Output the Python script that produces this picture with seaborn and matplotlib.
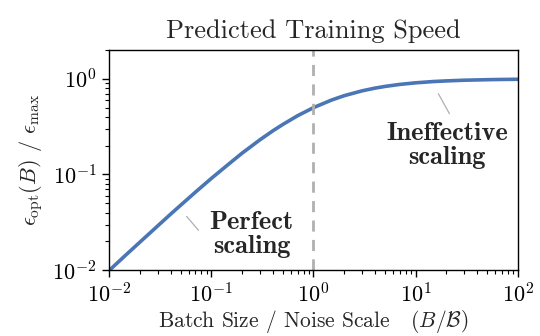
import matplotlib
matplotlib.use("Agg")
import matplotlib.pyplot as plt
import seaborn as sns
import pandas as pd

# values
batch_over_noise = [0.01, 0.015, 0.02, 0.03, 0.04, 0.05, 0.07, 0.1, 0.15, 0.2, 0.3, 0.4, 0.5, 0.7,
                    1.0, 1.5, 2.0, 3.0, 4.0, 5.0, 7.0, 10.0, 15.0, 20.0, 30.0, 50.0, 70.0, 100.0]
eps_ratio = [0.0099, 0.0148, 0.0196, 0.0291, 0.0385, 0.0476, 0.0654, 0.0909, 0.130, 0.167,
             0.231, 0.286, 0.333, 0.412, 0.500, 0.600, 0.667, 0.750, 0.800, 0.833, 0.875,
             0.909, 0.938, 0.952, 0.968, 0.980, 0.986, 0.990]
noise_scale_marker = [1.0]

sns.set_style("ticks")
plt.rcParams.update({
    "font.family": ["cmr10", "DejaVu Serif"],
    "mathtext.fontset": "cm",
    "axes.formatter.use_mathtext": True,
    "axes.unicode_minus": False,
    "axes.edgecolor": "black",
    "axes.linewidth": 1.0,
    "xtick.color": "black",
    "ytick.color": "black",
    "xtick.direction": "out",
    "ytick.direction": "out",
})

df = pd.DataFrame({"x": batch_over_noise, "y": eps_ratio})

fig = plt.figure(figsize=(5.4, 3.36), dpi=100)
ax = fig.add_axes([0.202, 0.196, 0.757, 0.655])

sns.lineplot(data=df, x="x", y="y", ax=ax, color="#4a76b5", lw=2.6)
for v in noise_scale_marker:
    ax.axvline(v, color="#b0b0b0", lw=2.0, ls=(0, (4, 3)))

ax.set_xscale("log")
ax.set_yscale("log")
ax.set_xlim(1e-2, 1e2)
ax.set_ylim(1e-2, 2.0)

ax.tick_params(axis="both", which="major", labelsize=16, length=5, width=1.0, pad=4)
ax.tick_params(axis="both", which="minor", length=3, width=0.8)

ax.set_title("Predicted Training Speed", fontsize=19, pad=9)
ax.set_xlabel(r"Batch Size / Noise Scale   $(B/\mathcal{B})$", fontsize=15.5, labelpad=0.5)
ax.set_ylabel(r"$\epsilon_{\rm opt}(B)$ / $\epsilon_{\rm max}$", fontsize=16, labelpad=5)

bold = {"family": ["cmb10", "DejaVu Serif"], "size": 19}
ax.text(0.096, 0.0237, "Perfect\nscaling", ha="left", va="center",
        multialignment="center", fontdict=bold, linespacing=1.05)
ax.annotate("", xy=(0.075, 0.0261), xytext=(0.0573, 0.0365),
            arrowprops=dict(arrowstyle="-", color="#b0b0b0", lw=0.9, shrinkA=0, shrinkB=0))
ax.text(20.2, 0.2, "Ineffective\nscaling", ha="center", va="center",
        multialignment="center", fontdict=bold, linespacing=1.05)
ax.annotate("", xy=(21.4, 0.432), xytext=(16.7, 0.698),
            arrowprops=dict(arrowstyle="-", color="#b0b0b0", lw=0.9, shrinkA=0, shrinkB=0))

fig.savefig("out.png", dpi=100)
